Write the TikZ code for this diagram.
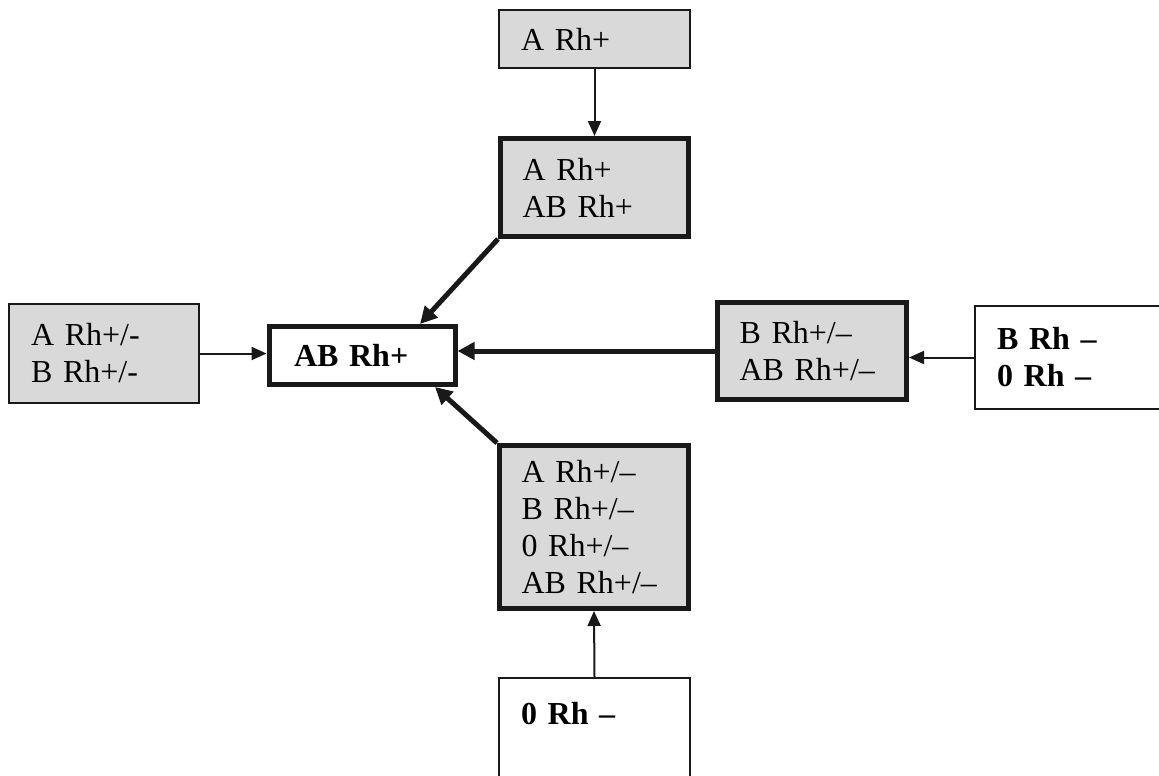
\documentclass[tikz,border=0pt]{standalone}
\usepackage{fontspec}
\setmainfont{Liberation Serif}
\usetikzlibrary{arrows.meta,calc}
\definecolor{boxgray}{RGB}{217,217,217}
\tikzset{
  basebox/.style={draw=black!90, rectangle, inner xsep=22pt, inner ysep=0pt, align=left,
    font=\fontsize{32}{37}\selectfont, anchor=center},
  thinbox/.style={basebox, line width=1.5pt},
  thickbox/.style={basebox, line width=5pt},
  boldtext/.style={font=\fontsize{32}{37}\selectfont\bfseries},
  grayfill/.style={fill=boxgray},
  thinarrow/.style={line width=2pt, draw=black!90, -{Triangle[length=15pt,width=13pt]}},
  thickarrow/.style={line width=5pt, draw=black!90, -{Triangle[length=17pt,width=17pt]}}
}
\begin{document}
\begin{tikzpicture}[x=1pt,y=-1pt]
\useasboundingbox (0,0) rectangle (1159,776);
% boxes
\node[thinbox, grayfill, text width=147pt, minimum height=58pt] (top) at (594.5,39) {A Rh+};
\node[thickbox, grayfill, text width=144pt, minimum height=98pt] (b2) at (594.5,187.5) {A Rh+\\AB Rh+};
\node[thinbox, grayfill, text width=146pt, minimum height=99pt] (left) at (104,353.5) {A Rh+/-\\B Rh+/-};
\node[thickbox, boldtext, text width=142pt, minimum height=58pt] (center) at (362,355.5) {\hspace*{3pt}AB Rh+};
\node[thickbox, grayfill, text width=145pt, minimum height=97pt] (rmid) at (812,351) {B Rh+/–\\AB Rh+/–};
\node[thinbox, boldtext, text width=170pt, minimum height=103pt] (fright) at (1082,357.5) {B Rh –\\0 Rh –};
\node[thickbox, grayfill, text width=145pt, minimum height=163pt] (b7) at (594,527) {A Rh+/–\\B Rh+/–\\0 Rh+/–\\AB Rh+/–};
\node[thinbox, boldtext, text width=147pt, minimum height=108pt] (b8) at (594.5,732) {0 Rh –\\\mbox{}};
% connectors
\draw[thinarrow] (top.south) -- (b2.north);
\draw[thickarrow] (b2.south west) -- ($(center.north)+(58,0)$);
\draw[thinarrow] (left.east) -- (left.east -| center.west);
\draw[thickarrow] (rmid.west) -- (rmid.west -| center.east);
\draw[thinarrow] (fright.west) -- (fright.west -| rmid.east);
\draw[thinarrow] (b8.north) -- (b7.south);
\draw[thickarrow] (b7.north west) -- ($(center.south)+(73,0)$);
\end{tikzpicture}
\end{document}
